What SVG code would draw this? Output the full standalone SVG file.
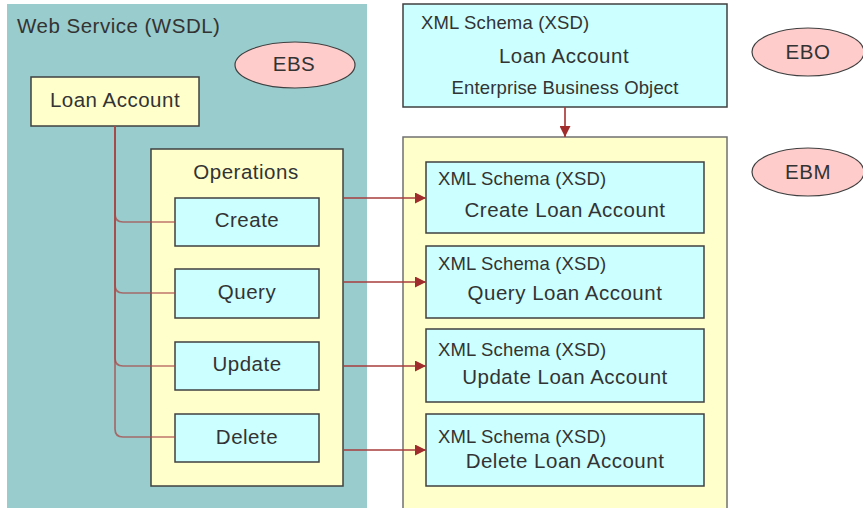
<svg xmlns="http://www.w3.org/2000/svg" width="863" height="508" viewBox="0 0 863 508">
<defs>
<style>
text{font-family:"Liberation Sans",Arial,sans-serif;fill:#333333}
.t20{font-size:20.5px;letter-spacing:0.5px}
.t18{font-size:18.5px;letter-spacing:0.15px}
.mid{text-anchor:middle}
.cyan{fill:#ccffff;stroke:#404040;stroke-width:1.5}
.yel{fill:#ffffcc;stroke:#404040;stroke-width:1.5}
.oval{fill:#ffcccc;stroke:#404040;stroke-width:1.2}
.tree{fill:none;stroke:#a84848;stroke-opacity:0.75;stroke-width:1.7}
.arr{fill:none;stroke:#a83c3c;stroke-width:1.7}
</style>
<marker id="ah" viewBox="0 0 10 10" refX="10" refY="5" markerWidth="11" markerHeight="11" markerUnits="userSpaceOnUse" orient="auto">
<path d="M0,0 L10,5 L0,10 Z" fill="#a02c2c"/>
</marker>
</defs>
<rect width="863" height="508" fill="#ffffff"/>
<g id="wsdl-panel">
<rect x="7" y="4" width="360" height="510" fill="#99cccc"/>
<text class="t20" x="17" y="33">Web Service (WSDL)</text>
</g>
<g id="ebs">
<ellipse class="oval" cx="295" cy="65" rx="60" ry="23"/>
<text class="t20 mid" x="294" y="71">EBS</text>
</g>
<g id="loan-account">
<rect class="yel" x="31" y="77" width="168" height="49"/>
<text class="t20 mid" x="115" y="107">Loan Account</text>
</g>
<g id="operations">
<rect class="yel" x="151" y="149" width="192" height="337"/>
<text class="t20 mid" x="246" y="179">Operations</text>
</g>
<g id="op-create">
<rect class="cyan" x="175" y="198" width="144" height="48"/>
<text class="t20 mid" x="247" y="227">Create</text>
</g>
<g id="op-query">
<rect class="cyan" x="175" y="269" width="144" height="49"/>
<text class="t20 mid" x="247" y="299">Query</text>
</g>
<g id="op-update">
<rect class="cyan" x="175" y="342" width="144" height="48"/>
<text class="t20 mid" x="247" y="371">Update</text>
</g>
<g id="op-delete">
<rect class="cyan" x="175" y="414" width="144" height="48"/>
<text class="t20 mid" x="247" y="444">Delete</text>
</g>
<g id="ebo-box">
<rect class="cyan" x="403" y="4" width="324" height="103"/>
<text class="t18" x="421" y="29">XML Schema (XSD)</text>
<text class="t20 mid" x="564" y="63">Loan Account</text>
<text class="t18 mid" x="565" y="94">Enterprise Business Object</text>
</g>
<g id="ebo">
<ellipse class="oval" cx="808" cy="52" rx="56" ry="24"/>
<text class="t20 mid" x="808" y="59">EBO</text>
</g>
<g id="ebm-panel">
<rect x="403" y="137" width="324" height="380" fill="#ffffcc" stroke="#707070" stroke-width="1.5"/>
</g>
<g id="ebm">
<ellipse class="oval" cx="808" cy="172" rx="56" ry="24"/>
<text class="t20 mid" x="808" y="179">EBM</text>
</g>
<g id="xsd-create">
<rect class="cyan" x="426" y="162" width="278" height="71"/>
<text class="t18" x="438" y="185">XML Schema (XSD)</text>
<text class="t20 mid" x="565" y="217">Create Loan Account</text>
</g>
<g id="xsd-query">
<rect class="cyan" x="426" y="246" width="278" height="72"/>
<text class="t18" x="438" y="270">XML Schema (XSD)</text>
<text class="t20 mid" x="565" y="300">Query Loan Account</text>
</g>
<g id="xsd-update">
<rect class="cyan" x="426" y="329" width="278" height="73"/>
<text class="t18" x="438" y="356">XML Schema (XSD)</text>
<text class="t20 mid" x="565" y="384">Update Loan Account</text>
</g>
<g id="xsd-delete">
<rect class="cyan" x="426" y="414" width="278" height="72"/>
<text class="t18" x="438" y="443">XML Schema (XSD)</text>
<text class="t20 mid" x="565" y="468">Delete Loan Account</text>
</g>
<g id="connectors">
<path class="tree" d="M115,126 V214 Q115,222 123,222 H175"/>
<path class="tree" d="M115,126 V285 Q115,293 123,293 H175"/>
<path class="tree" d="M115,126 V358 Q115,366 123,366 H175"/>
<path class="tree" d="M115,126 V429 Q115,437 123,437 H175"/>
<path class="arr" d="M343,198 H426" marker-end="url(#ah)"/>
<path class="arr" d="M343,282 H426" marker-end="url(#ah)"/>
<path class="arr" d="M343,366 H426" marker-end="url(#ah)"/>
<path class="arr" d="M343,450 H426" marker-end="url(#ah)"/>
<path class="arr" d="M565,107 V137" marker-end="url(#ah)"/>
</g>
</svg>
